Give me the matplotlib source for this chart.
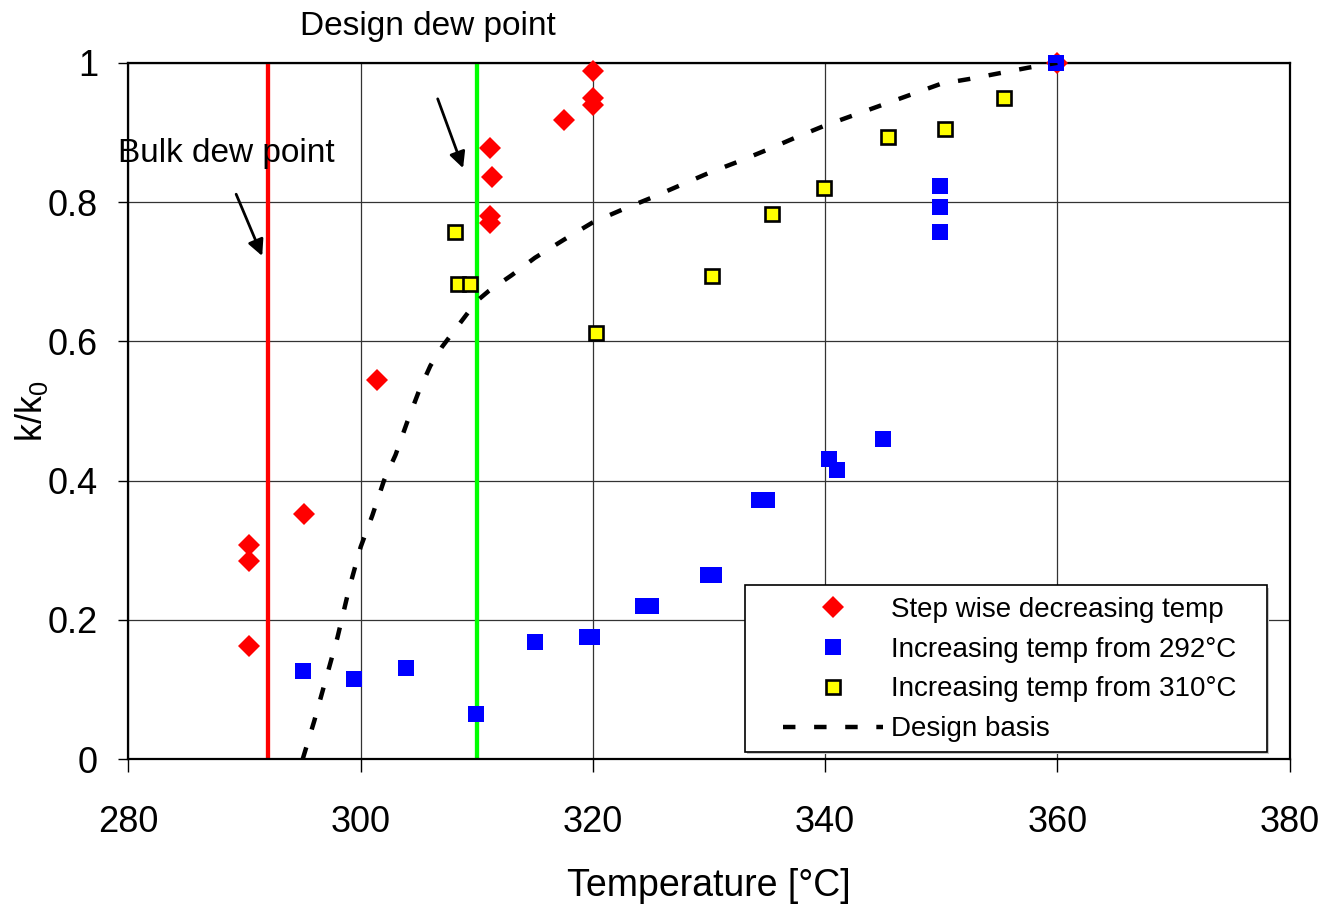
import matplotlib
matplotlib.use('Agg')
import matplotlib.pyplot as plt
from matplotlib.patches import Rectangle

plt.rcParams['font.family'] = ['Liberation Sans', 'DejaVu Sans']

# Step wise decreasing temp (red diamonds)
red_T = [290.4, 290.4, 290.4, 295.1, 301.4, 311.1, 311.3, 311.1, 311.1, 317.5, 320.0, 320.0, 320.0, 360.0]
red_k = [0.307, 0.285, 0.163, 0.352, 0.545, 0.877, 0.836, 0.780, 0.770, 0.918, 0.988, 0.949, 0.940, 1.000]

# Increasing temp from 292 C (blue squares)
blue_T = [295.0, 299.4, 303.9, 309.9, 315.0, 319.5, 319.9, 324.3, 325.0, 329.9, 330.4,
          334.3, 335.0, 340.3, 341.0, 345.0, 349.9, 349.9, 349.9, 359.9]
blue_k = [0.127, 0.116, 0.131, 0.065, 0.168, 0.176, 0.176, 0.220, 0.220, 0.265, 0.265,
          0.372, 0.372, 0.431, 0.416, 0.460, 0.823, 0.793, 0.757, 1.000]

# Increasing temp from 310 C (yellow squares)
yel_T = [308.1, 308.35, 309.4, 320.3, 330.3, 335.4, 339.9, 345.4, 350.3, 355.4]
yel_k = [0.757, 0.683, 0.683, 0.612, 0.694, 0.783, 0.820, 0.894, 0.905, 0.949]

# Design basis (dashed)
design_T = [295.0, 296.0, 297.0, 298.0, 299.0, 300.0, 301.0, 302.0, 303.0, 304.0, 305.0,
            306.0, 307.0, 308.0, 309.0, 310.0, 311.0, 313.0, 315.0, 317.5, 320.0, 322.5,
            325.0, 327.5, 330.0, 332.5, 335.0, 337.5, 340.0, 342.5, 345.0, 347.5, 350.0,
            352.5, 355.0, 357.5, 360.0]
design_k = [0.000, 0.055, 0.115, 0.175, 0.245, 0.305, 0.350, 0.400, 0.437, 0.484, 0.528,
            0.565, 0.592, 0.614, 0.636, 0.658, 0.672, 0.695, 0.720, 0.746, 0.771, 0.789,
            0.806, 0.824, 0.842, 0.858, 0.875, 0.893, 0.910, 0.925, 0.940, 0.955, 0.970,
            0.977, 0.985, 0.993, 1.000]

bulk_dew = 292
design_dew = 310

fig = plt.figure(figsize=(13.26, 9.05), dpi=100)
ax = fig.add_axes([0.0969, 0.1610, 0.8756, 0.7696])

ax.axvline(bulk_dew, color='#ff0000', lw=3.1, zorder=2)
ax.axvline(design_dew, color='#00ff00', lw=3.1, zorder=2)

ax.plot(red_T, red_k, 'D', color='#ff0000', ms=11.5, mew=0, ls='none',
        label='Step wise decreasing temp', clip_on=False, zorder=3)
ax.plot(blue_T, blue_k, 's', color='#0000ff', ms=11.5, mew=0, ls='none',
        label='Increasing temp from 292°C', clip_on=False, zorder=4)
ax.plot(yel_T, yel_k, 's', mfc='#ffff00', mec='black', ms=10.5, mew=1.9, ls='none',
        label='Increasing temp from 310°C', clip_on=False, zorder=4)
ax.plot(design_T, design_k, color='black', lw=3.2, dashes=(2.8, 4.2),
        label='Design basis', zorder=5)

ax.set_xlim(280, 380)
ax.set_ylim(0, 1)
ax.set_xticks([280, 300, 320, 340, 360, 380])
ax.set_yticks([0, 0.2, 0.4, 0.6, 0.8, 1.0])
ax.set_yticklabels(['0', '0.2', '0.4', '0.6', '0.8', '1'])
ax.grid(True, color='#333333', lw=0.9)
ax.set_axisbelow(True)
for s in ax.spines.values():
    s.set_linewidth(1.6)
    s.set_color('black')
ax.tick_params(axis='x', direction='out', length=9, width=1, pad=24, labelsize=26)
ax.tick_params(axis='y', direction='out', length=7, width=1, pad=15, labelsize=26)

ax.set_xlabel('Temperature [°C]', fontsize=27, labelpad=20)
ax.set_ylabel(r'k/k$_\mathregular{0}$', fontsize=26)
ax.yaxis.set_label_coords(-0.068, 0.50)

# annotations
ax.text(279.1, 0.8576, 'Bulk dew point', fontsize=24, ha='left', va='baseline', clip_on=False)
ax.annotate('', xy=(291.61, 0.719), xytext=(289.18, 0.815),
            arrowprops=dict(arrowstyle='-|>', lw=2, color='black', mutation_scale=24))
ax.text(294.79, 1.04, 'Design dew point', fontsize=24, ha='left', va='baseline', clip_on=False)
ax.annotate('', xy=(308.9, 0.845), xytext=(306.55, 0.952),
            arrowprops=dict(arrowstyle='-|>', lw=2, color='black', mutation_scale=24))

# legend box with faint shadow
shadow = Rectangle((0.533, 0.007), 0.4495, 0.2395, transform=ax.transAxes,
                   facecolor='#c8c8c8', edgecolor='none', zorder=8)
box = Rectangle((0.531, 0.0105), 0.4495, 0.2395, transform=ax.transAxes,
                facecolor='white', edgecolor='black', lw=1.2, zorder=9)
ax.add_patch(shadow)
ax.add_patch(box)
leg = ax.legend(loc='upper left', bbox_to_anchor=(0.5637, 0.2335), fontsize=20,
                frameon=False, borderpad=0, labelspacing=0.5,
                handlelength=3.6, handletextpad=0.3, borderaxespad=0)
leg.set_zorder(10)

fig.savefig('out.png', dpi=100)
